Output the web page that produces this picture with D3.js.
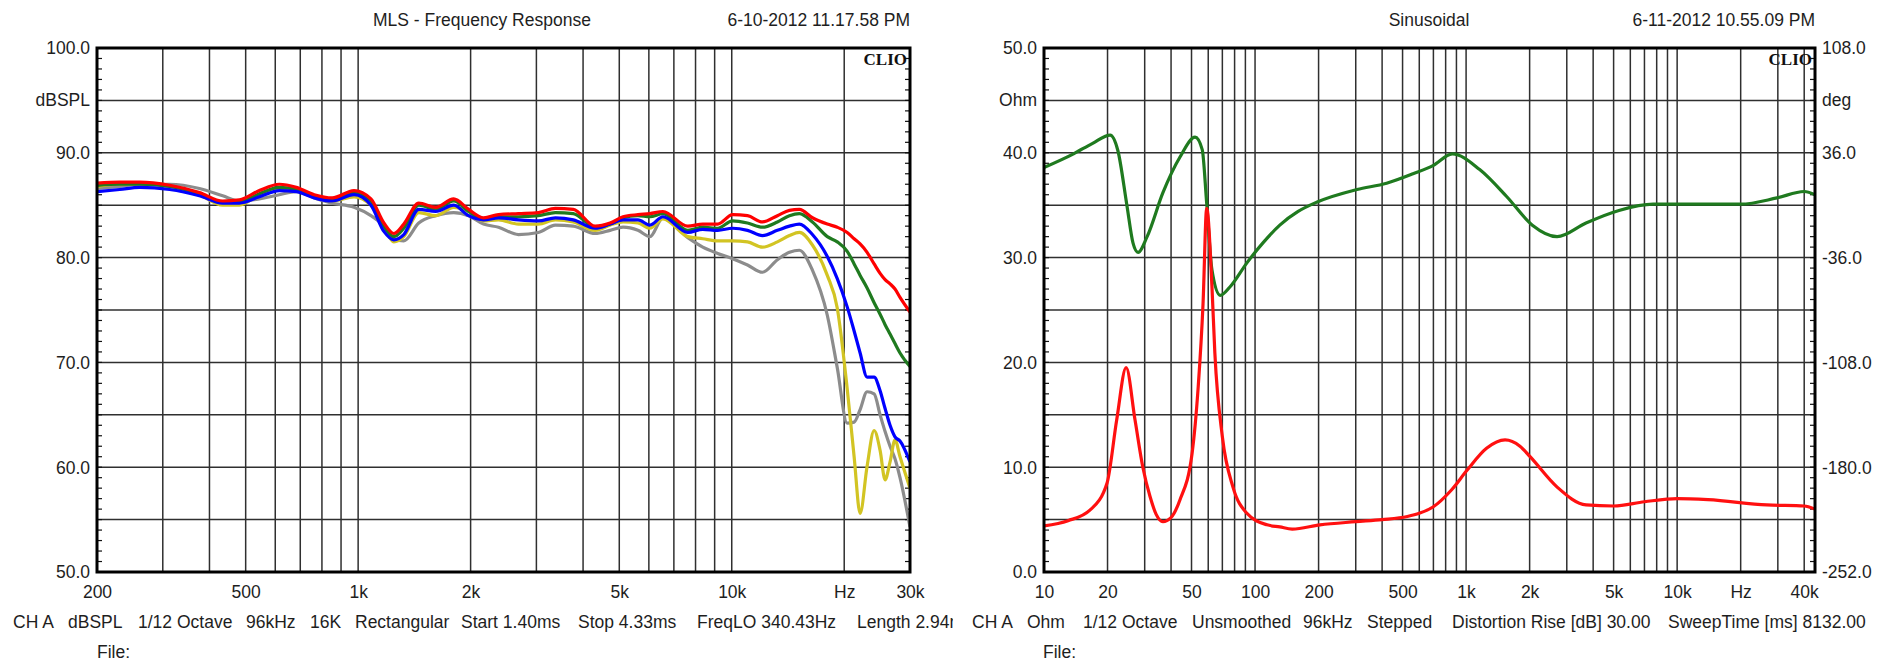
<!DOCTYPE html>
<html>
<head>
<meta charset="utf-8">
<script src="https://cdn.jsdelivr.net/npm/d3@7"></script>
<style>
  body { margin: 0; background: #fff; }
  svg text { font-family: "Liberation Sans", Arial, sans-serif; fill: #1e1e1e; }
</style>
</head>
<body>
<svg id="chart" width="1885" height="664"></svg>
<script>
// ---- MLS frequency response (left), five traces on a shared frequency list
const splFreq = [200, 230, 260, 313, 376, 434, 481, 544, 615, 683, 763, 852, 975, 1082, 1172,
  1246, 1325, 1453, 1613, 1802, 1976, 2166, 2375, 2685, 3037, 3372, 3766, 4309, 4725, 5117,
  5610, 6040, 6543, 7628, 8364, 9171, 10052, 11020, 12085, 13250, 14270, 15170, 16440, 18020, 19160,
  20370, 21260, 22060, 23030, 24050, 24950, 25730, 26530, 27350, 28210, 30000];
const splRed = [87.1, 87.2, 87.2, 86.9, 86.2, 85.4, 85.5, 86.4, 87.0, 86.7, 86.0, 85.7, 86.4, 85.6, 83.3,
  82.3, 83.2, 85.2, 84.8, 85.6, 84.6, 83.8, 84.1, 84.2, 84.3, 84.7, 84.6, 83.0, 83.3, 83.9,
  84.1, 84.2, 84.4, 83.0, 83.2, 83.2, 84.1, 84.0, 83.4, 84.0, 84.5, 84.6, 83.8, 83.2, 82.9,
  82.4, 81.8, 81.3, 80.5, 79.4, 78.5, 77.9, 77.5, 77.0, 76.2, 74.8];
const splGreen = [86.9, 87.0, 87.0, 86.8, 86.1, 85.3, 85.3, 86.1, 86.7, 86.5, 85.9, 85.6, 86.2, 85.4, 83.0,
  82.0, 82.8, 85.0, 84.6, 85.4, 84.4, 83.7, 83.9, 83.9, 84.0, 84.3, 84.2, 82.9, 83.2, 83.8,
  84.0, 83.9, 84.2, 82.6, 82.9, 82.8, 83.5, 83.3, 82.9, 83.4, 84.0, 84.2, 83.4, 82.0, 81.5,
  80.6, 79.4, 78.3, 77.1, 75.7, 74.6, 73.6, 72.7, 71.8, 70.9, 69.6];
const splBlue = [86.3, 86.5, 86.7, 86.5, 85.9, 85.2, 85.2, 85.8, 86.4, 86.3, 85.7, 85.4, 86.0, 85.0, 82.5,
  81.7, 82.2, 84.6, 84.4, 85.0, 84.0, 83.6, 83.8, 83.6, 83.5, 83.8, 83.6, 82.8, 83.2, 83.6,
  83.6, 83.1, 83.9, 82.4, 82.7, 82.6, 82.8, 82.6, 82.1, 82.6, 83.0, 83.2, 82.2, 80.1, 78.0,
  75.3, 73.0, 70.9, 68.6, 68.6, 67.3, 65.6, 64.0, 62.9, 62.5, 60.5];
const splYellow = [86.8, 87.0, 87.0, 86.8, 86.0, 85.0, 85.0, 86.0, 86.5, 86.4, 85.8, 85.4, 85.8, 85.0, 83.0,
  81.5, 82.0, 84.3, 84.0, 84.8, 84.4, 83.5, 83.6, 83.2, 83.2, 83.6, 83.4, 82.6, 83.1, 83.4,
  83.3, 82.8, 83.7, 82.0, 81.8, 81.6, 81.6, 81.5, 81.0, 81.5, 82.1, 82.4, 81.2, 78.3, 75.2,
  67.5, 61.0, 55.6, 60.1, 63.5, 61.6, 58.8, 60.5, 62.6, 61.0, 58.0];
const splGray = [86.6, 86.8, 87.0, 87.0, 86.6, 85.9, 85.4, 85.6, 86.0, 86.3, 85.7, 85.2, 84.8, 84.0, 83.0,
  81.7, 81.6, 83.3, 84.0, 84.3, 84.0, 83.2, 82.9, 82.2, 82.4, 83.1, 83.0, 82.3, 82.6, 82.9,
  82.6, 82.0, 83.8, 81.9, 81.0, 80.4, 79.9, 79.3, 78.6, 79.8, 80.5, 80.7, 78.8, 74.5, 69.5,
  64.2, 64.3, 65.5, 67.2, 67.0, 65.0, 63.4, 62.0, 60.8, 59.0, 54.3];

const splXTicks = [200, 500, 1000, 2000, 5000, 10000, 20000, 30000];
const splXLabels = ["200", "500", "1k", "2k", "5k", "10k", "Hz", "30k"];
const splYTicks = [50, 60, 70, 80, 90, 100];
const splInfo = ["CH A", "dBSPL", "1/12 Octave", "96kHz", "16K", "Rectangular",
  "Start 1.40ms", "Stop 4.33ms", "FreqLO 340.43Hz", "Length 2.94ms"];

// ---- Sinusoidal impedance (right): modulus in Ohm, phase in deg
const impFreq = [10, 13, 16.5, 19.9, 22.1, 24.5, 27, 29.4, 31.8, 34, 36.6, 40, 44.1, 50.3, 53.8,
  56.7, 59, 62.5, 64.5, 70, 78.6, 91.5, 114, 131, 150, 203, 300, 400, 527, 600,
  697, 850, 1010, 1250, 1530, 1800, 2010, 2700, 3700, 5000, 7000, 10000, 14000, 26600, 40000, 45000];
const impOhm = [4.4, 4.9, 5.9, 8.5, 14.5, 19.5, 14.5, 10.0, 7.2, 5.5, 4.8, 5.2, 6.9, 11.3, 17.7,
  25.6, 34.7, 27.2, 20.9, 12.9, 8.1, 5.6, 4.5, 4.3, 4.1, 4.5, 4.8, 5.0, 5.3, 5.6,
  6.2, 7.8, 9.7, 11.8, 12.6, 12.0, 11.0, 8.1, 6.4, 6.3, 6.7, 7.0, 6.9, 6.4, 6.3, 6.0];
const phaseFreq = [10, 13.8, 17, 20.6, 22.4, 24.7, 26.4, 27.9, 30.8, 36.6, 44.1, 52, 56.2, 59, 62.5,
  68.4, 76, 91.5, 109, 131, 160, 197, 304, 420, 560, 700, 860, 1160, 1560, 2060,
  2700, 3700, 5300, 7700, 12000, 20000, 29700, 40000, 45000];
const phaseDeg = [25.9, 35.3, 42.5, 48.2, 37.4, 0.0, -25.9, -32.4, -21.6, 8.6, 33.1, 46.8, 38.2, 1.4, -44.6,
  -61.9, -56.2, -39.6, -25.9, -13.7, -4.3, 2.2, 10.8, 15.1, 21.6, 27.4, 35.3, 24.5, 5.8, -13.7,
  -21.6, -12.2, -3.6, 0.7, 0.7, 0.7, 5.0, 9.4, 7.2];

const impXTicks = [10, 20, 50, 100, 200, 500, 1000, 2000, 5000, 10000, 20000, 40000];
const impXLabels = ["10", "20", "50", "100", "200", "500", "1k", "2k", "5k", "10k", "Hz", "40k"];
const impYTicks = [0, 10, 20, 30, 40, 50];
const phaseYTicks = [-252, -180, -108, -36, 36, 108];
const impInfo = ["CH A", "Ohm", "1/12 Octave", "Unsmoothed", "96kHz", "Stepped",
  "Distortion Rise [dB] 30.00", "SweepTime [ms] 8132.00"];

const fontSize = 17.5;
const svg = d3.select("#chart");

svg.append("rect").attr("width", 1885).attr("height", 664).attr("fill", "#fff");

function zip(xs, ys) {
  return xs.map((x, i) => [x, ys[i]]);
}

// grid frequencies 1..9 per decade inside the domain
function decadeGrid(lo, hi) {
  const out = [];
  for (let d = 1; d <= 100000; d *= 10) {
    for (let m = 1; m <= 9; m++) {
      const f = d * m;
      if (f >= lo && f <= hi) out.push(f);
    }
  }
  return out;
}

function drawPanel(cfg) {
  const { left, right, top, bottom, id } = cfg;
  const g = svg.append("g");

  const x = d3.scaleLog().domain(cfg.xDomain).range([left, right]);
  const y = d3.scaleLinear().domain(cfg.yDomain).range([bottom, top]);
  const y2 = cfg.y2Domain ? d3.scaleLinear().domain(cfg.y2Domain).range([bottom, top]) : null;

  // clip for the info line (text runs past the panel edge)
  svg.append("clipPath").attr("id", id + "-info")
    .append("rect").attr("x", cfg.panelLeft).attr("y", 600).attr("width", cfg.panelRight - cfg.panelLeft).attr("height", 64);
  svg.append("clipPath").attr("id", id + "-plot")
    .append("rect").attr("x", left).attr("y", top).attr("width", right - left).attr("height", bottom - top);

  // title + date
  g.append("text").attr("x", cfg.titleX).attr("y", 26)
    .attr("text-anchor", cfg.titleAnchor).attr("font-size", fontSize).text(cfg.title);
  g.append("text").attr("x", right).attr("y", 26)
    .attr("text-anchor", "end").attr("font-size", fontSize).text(cfg.date);

  // grid
  const grid = g.append("g").attr("stroke", "#2f2f2f").attr("stroke-width", 1.5);
  grid.selectAll("line.v").data(decadeGrid(cfg.xDomain[0], cfg.xDomain[1]))
    .join("line").attr("class", "v")
    .attr("x1", d => x(d)).attr("x2", d => x(d))
    .attr("y1", top).attr("y2", bottom);
  grid.selectAll("line.h").data(d3.range(cfg.yDomain[0], cfg.yDomain[1] + 0.01, cfg.yGridStep))
    .join("line").attr("class", "h")
    .attr("x1", left).attr("x2", right)
    .attr("y1", d => y(d)).attr("y2", d => y(d));

  // minor ticks on the inner side of both vertical borders
  const minor = d3.range(cfg.yDomain[0], cfg.yDomain[1] + 0.01, cfg.yMinorStep);
  const mt = g.append("g").attr("stroke", "#111").attr("stroke-width", 1.2);
  mt.selectAll("line.l").data(minor).join("line").attr("class", "l")
    .attr("x1", left).attr("x2", left + 5).attr("y1", d => y(d)).attr("y2", d => y(d));
  mt.selectAll("line.r").data(minor).join("line").attr("class", "r")
    .attr("x1", right - 5).attr("x2", right).attr("y1", d => y(d)).attr("y2", d => y(d));

  // traces
  const traces = g.append("g").attr("clip-path", `url(#${id}-plot)`)
    .attr("fill", "none").attr("stroke-width", 3.2).attr("stroke-linejoin", "round");
  cfg.series.forEach(s => {
    const ys = s.axis === 2 ? y2 : y;
    const line = d3.line()
      .x(d => x(d[0]))
      .y(d => ys(d[1]))
      .curve(d3.curveMonotoneX);
    traces.append("path").datum(s.points).attr("stroke", s.color).attr("d", line);
  });

  // frame
  g.append("rect").attr("x", left).attr("y", top)
    .attr("width", right - left).attr("height", bottom - top)
    .attr("fill", "none").attr("stroke", "#000").attr("stroke-width", 3);

  g.append("text").attr("x", right - 3).attr("y", 65)
    .attr("text-anchor", "end").attr("font-size", 17).attr("font-weight", "bold")
    .style("font-family", '"Liberation Serif", "Times New Roman", serif')
    .style("fill", "#111").text("CLIO");

  // axes
  const fmt = d => d.toFixed(1);
  const yAxis = g.append("g").attr("transform", `translate(${left},0)`)
    .call(d3.axisLeft(y).tickValues(cfg.yTicks).tickFormat(fmt).tickSize(0).tickPadding(7));
  yAxis.select(".domain").remove();
  yAxis.selectAll("text").attr("font-size", fontSize).attr("dy", "0.34em")
    .attr("font-family", null).attr("fill", null);
  g.append("text").attr("x", left - 7).attr("y", y(cfg.unitAt)).attr("dy", "0.34em")
    .attr("text-anchor", "end").attr("font-size", fontSize).text(cfg.unit);

  if (y2) {
    const y2Axis = g.append("g").attr("transform", `translate(${right},0)`)
      .call(d3.axisRight(y2).tickValues(cfg.y2Ticks).tickFormat(fmt).tickSize(0).tickPadding(7));
    y2Axis.select(".domain").remove();
    y2Axis.selectAll("text").attr("font-size", fontSize).attr("dy", "0.34em")
      .attr("font-family", null).attr("fill", null);
    g.append("text").attr("x", right + 7).attr("y", y(cfg.unitAt)).attr("dy", "0.34em")
      .attr("text-anchor", "start").attr("font-size", fontSize).text(cfg.unit2);
  }

  const xAxis = g.append("g").attr("transform", `translate(0,${bottom})`)
    .call(d3.axisBottom(x).tickValues(cfg.xTicks)
      .tickFormat((d, i) => cfg.xLabels[i]).tickSize(0).tickPadding(14));
  xAxis.select(".domain").remove();
  xAxis.selectAll("text").attr("font-size", fontSize).attr("font-family", null).attr("fill", null);

  // info line and file line
  const info = g.append("g").attr("clip-path", `url(#${id}-info)`);
  info.selectAll("text").data(cfg.info).join("text")
    .attr("x", (d, i) => cfg.infoX[i]).attr("y", 628)
    .attr("font-size", fontSize).text(d => d);
  g.append("text").attr("x", cfg.fileX).attr("y", 658)
    .attr("font-size", fontSize).text("File:");
}

drawPanel({
  id: "mls",
  panelLeft: 0, panelRight: 953,
  left: 97, right: 910, top: 48, bottom: 572,
  xDomain: [200, 30000], yDomain: [50, 100], yGridStep: 5, yMinorStep: 1,
  title: "MLS - Frequency Response", titleX: 373, titleAnchor: "start",
  date: "6-10-2012 11.17.58 PM",
  yTicks: splYTicks, unit: "dBSPL", unitAt: 95,
  xTicks: splXTicks, xLabels: splXLabels,
  info: splInfo, infoX: [13, 68, 138, 246, 310, 355, 461, 578, 697, 857], fileX: 97,
  series: [
    { color: "#8c8c8c", points: zip(splFreq, splGray) },
    { color: "#d2c423", points: zip(splFreq, splYellow) },
    { color: "#1f7a1f", points: zip(splFreq, splGreen) },
    { color: "#0000ff", points: zip(splFreq, splBlue) },
    { color: "#ff0000", points: zip(splFreq, splRed) }
  ]
});

drawPanel({
  id: "imp",
  panelLeft: 953, panelRight: 1885,
  left: 1044, right: 1815, top: 48, bottom: 572,
  xDomain: [10, 45000], yDomain: [0, 50], yGridStep: 5, yMinorStep: 1,
  y2Domain: [-252, 108], y2Ticks: phaseYTicks,
  title: "Sinusoidal", titleX: 1429, titleAnchor: "middle",
  date: "6-11-2012 10.55.09 PM",
  yTicks: impYTicks, unit: "Ohm", unit2: "deg", unitAt: 45,
  xTicks: impXTicks, xLabels: impXLabels,
  info: impInfo, infoX: [972, 1027, 1083, 1192, 1303, 1367, 1452, 1668], fileX: 1043,
  series: [
    { color: "#1f7a1f", axis: 2, points: zip(phaseFreq, phaseDeg) },
    { color: "#ff1010", points: zip(impFreq, impOhm) }
  ]
});
</script>
</body>
</html>
